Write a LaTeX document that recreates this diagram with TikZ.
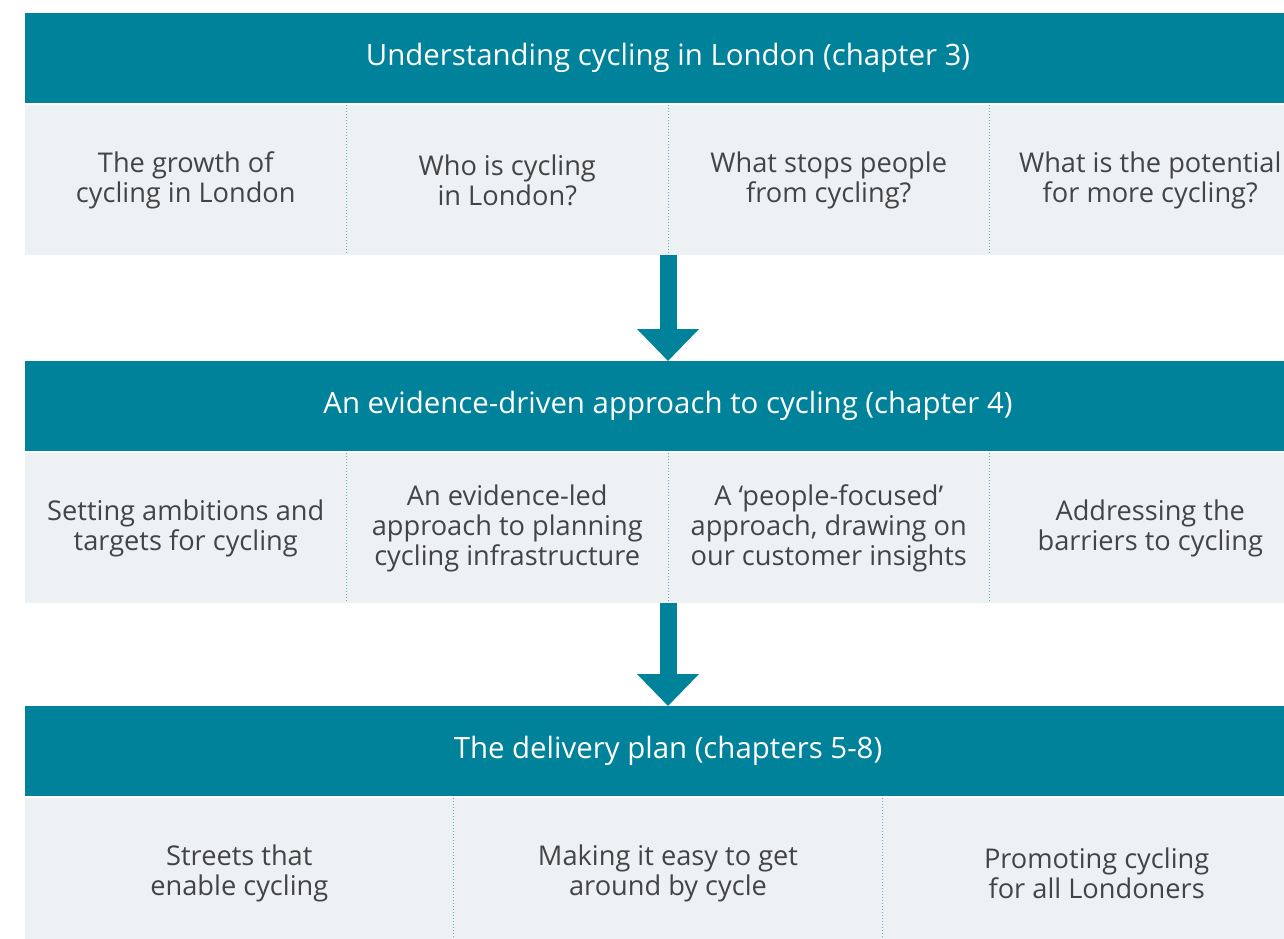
\documentclass[tikz,border=0pt]{standalone}
\usepackage{fontspec}
\setmainfont{Open Sans}
\usetikzlibrary{positioning,arrows.meta}
\definecolor{tflteal}{HTML}{00829B}
\definecolor{cellgray}{HTML}{EEF1F4}
\definecolor{textgray}{HTML}{444444}
\definecolor{septeal}{HTML}{5AAFC2}

\begin{document}
\begin{tikzpicture}[
        every node/.style={align=center, outer sep=0pt, inner sep=0pt},
        header/.style={rectangle, fill=tflteal, text=white, font=\fontsize{14.7pt}{17pt}\selectfont, minimum width=643pt, minimum height=45pt},
        cell/.style={rectangle, fill=cellgray, text=textgray, font=\fontsize{13.6pt}{15pt}\selectfont, minimum width=160.75pt, minimum height=75pt},
        widecell/.style={cell, minimum width=214.33pt},
        sep/.style={draw=septeal, densely dotted, line width=0.5pt},
        flow/.style={-{Triangle[length=16pt,width=30pt]}, line width=8.5pt, draw=tflteal}
    ]
    \useasboundingbox (0,0) rectangle (642pt,-469pt);
    % Chapter 3
    \node[header] (understand) at (334pt,-29pt) {Understanding cycling in London (chapter 3)};
    \node[cell, below right=1pt and 0pt of understand.south west] (growth) {The growth of\\cycling in London};
    \node[cell, right=0pt of growth] (who) {Who is cycling\\in London?};
    \node[cell, right=0pt of who] (stops) {What stops people\\from cycling?};
    \node[cell, right=0pt of stops] (potential) {What is the potential\\for more cycling?};
    % Chapter 4
    \node[header, below=53pt of who.south east] (evidence) {An evidence-driven approach to cycling (chapter 4)};
    \node[cell, below right=1pt and 0pt of evidence.south west] (targets) {Setting ambitions and\\targets for cycling};
    \node[cell, right=0pt of targets] (planning) {An evidence-led\\approach to planning\\cycling infrastructure};
    \node[cell, right=0pt of planning] (people) {A ‘people-focused’\\approach, drawing on\\our customer insights};
    \node[cell, right=0pt of people] (barriers) {Addressing the\\barriers to cycling};
    % Chapters 5-8
    \node[header, below=51.5pt of planning.south east] (delivery) {The delivery plan (chapters 5-8)};
    \node[widecell, below right=1pt and 0pt of delivery.south west] (streets) {Streets that\\enable cycling};
    \node[widecell, right=0pt of streets] (easy) {Making it easy to get\\around by cycle};
    \node[widecell, right=0pt of easy] (promoting) {Promoting cycling\\for all Londoners};
    % Separators
    \draw[sep] (growth.north east) -- (growth.south east);
    \draw[sep] (who.north east) -- (who.south east);
    \draw[sep] (stops.north east) -- (stops.south east);
    \draw[sep] (targets.north east) -- (targets.south east);
    \draw[sep] (planning.north east) -- (planning.south east);
    \draw[sep] (people.north east) -- (people.south east);
    \draw[sep] (streets.north east) -- (streets.south east);
    \draw[sep] (easy.north east) -- (easy.south east);
    % Arrows
    \draw[flow] (who.south east) -- (evidence.north);
    \draw[flow] (planning.south east) -- (delivery.north);
\end{tikzpicture}
\end{document}
